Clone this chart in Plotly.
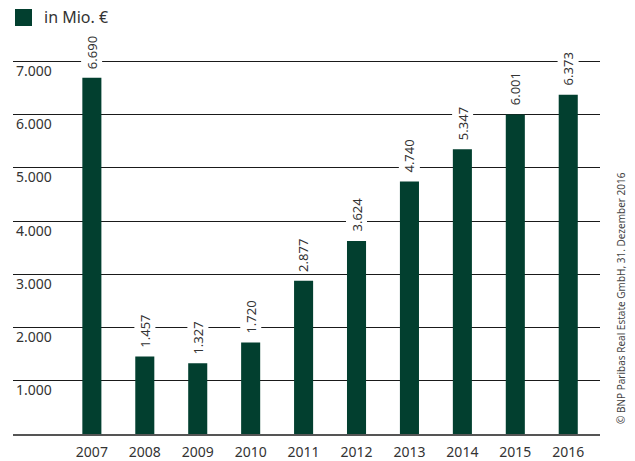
import plotly.graph_objects as go

# Annual volume, in million euro
years = ["2007", "2008", "2009", "2010", "2011", "2012", "2013", "2014", "2015", "2016"]
volumes = [6690, 1457, 1327, 1720, 2877, 3624, 4740, 5347, 6001, 6373]
y_ticks = [1000, 2000, 3000, 4000, 5000, 6000, 7000]

BAR_COLOR = "#023f2f"
TEXT_COLOR = "#333333"
FONT = "Noto Sans"


def de_number(v):
    return f"{v:,}".replace(",", ".")


fig = go.Figure()
fig.add_trace(go.Bar(
    x=years, y=volumes, width=0.36,
    marker=dict(color=BAR_COLOR, line=dict(width=0)),
    showlegend=False, hoverinfo="x+y",
))

# vertical value labels above the bars, white box cuts the grid line
for i, v in enumerate(volumes):
    fig.add_annotation(
        x=i, y=v, xref="x", yref="y", text=de_number(v),
        textangle=-90, showarrow=False, yanchor="bottom", xanchor="center",
        yshift=7, bgcolor="white", borderpad=1,
        font=dict(family=FONT, size=13, color=TEXT_COLOR),
    )

# legend: swatch + label
fig.add_shape(type="rect", xref="paper", yref="paper",
              x0=(15 - 13) / 587, x1=(32 - 13) / 587,
              y0=(434 - 26) / 414, y1=(434 - 9) / 414,
              fillcolor=BAR_COLOR, line=dict(width=0))
fig.add_annotation(xref="paper", yref="paper", x=(42 - 13) / 587, y=(434 - 17.5) / 414,
                   text="in Mio. €", showarrow=False, xanchor="left", yanchor="middle",
                   font=dict(family=FONT, size=16, color=TEXT_COLOR))

# source note on the right edge
fig.add_annotation(xref="paper", yref="paper", x=(621 - 13) / 587, y=(434 - 298) / 414,
                   text="© BNP Paribas Real Estate GmbH, 31. Dezember 2016",
                   textangle=-90, showarrow=False, xanchor="center", yanchor="middle",
                   font=dict(family=FONT, size=10, color="#444444"))

fig.update_layout(
    width=635, height=461,
    margin=dict(l=13, r=35, t=20, b=27, autoexpand=False),
    paper_bgcolor="white", plot_bgcolor="white",
    separators=",.",
    xaxis=dict(
        type="category", range=[-1.49, 9.6], automargin=False,
        showgrid=False, showline=True, linecolor="#555555", linewidth=2,
        ticks="", ticklabelstandoff=4,
        tickfont=dict(family=FONT, size=14, color=TEXT_COLOR),
        fixedrange=True,
    ),
    yaxis=dict(
        range=[0, 414 / 53.25 * 1000], automargin=False,
        tickvals=y_ticks, tickformat=",d",
        showgrid=True, gridcolor="#1a1a1a", gridwidth=1,
        zeroline=False, showline=False, ticks="",
        ticklabelposition="inside bottom",
        tickfont=dict(family=FONT, size=14, color=TEXT_COLOR),
        fixedrange=True,
    ),
)

fig.write_html("out.html")
